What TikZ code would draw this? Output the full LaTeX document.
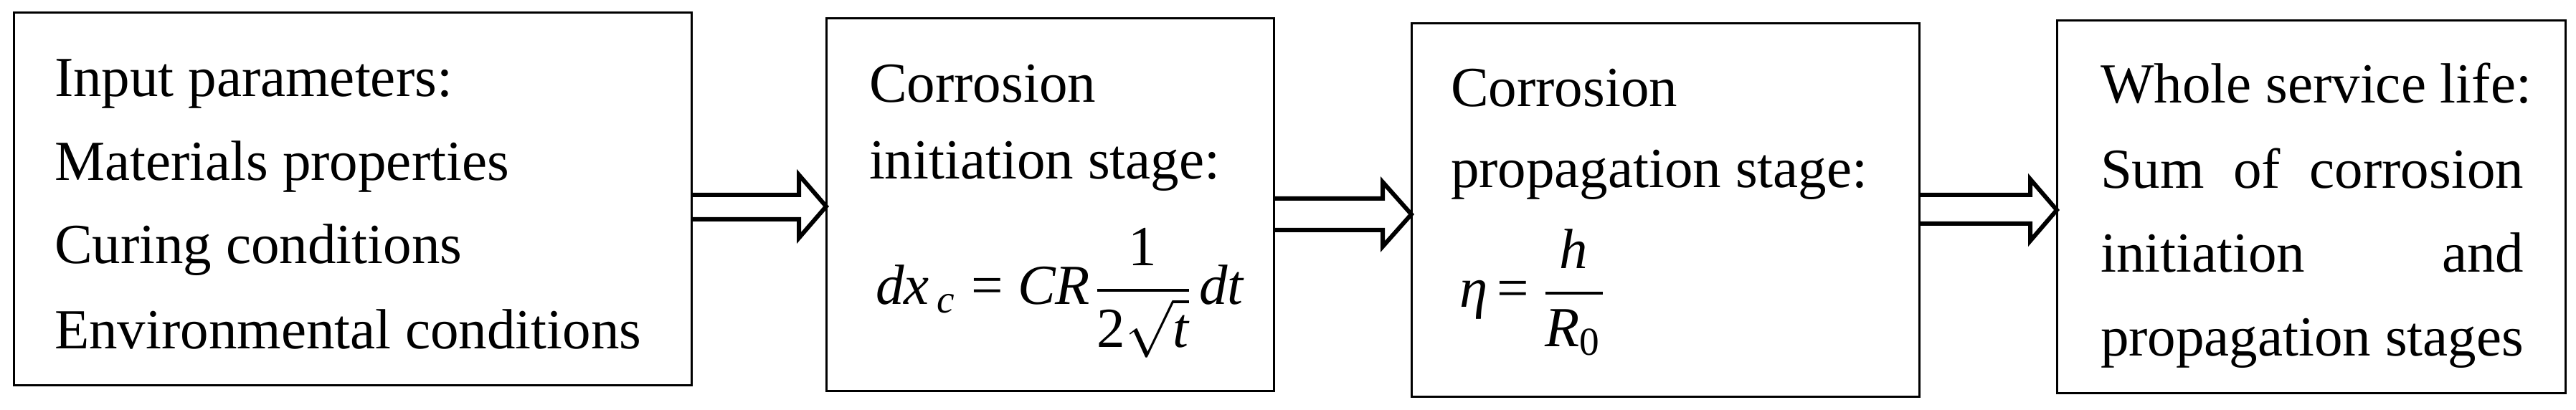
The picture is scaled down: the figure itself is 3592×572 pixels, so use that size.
\documentclass[tikz,border=0pt]{standalone}
\usepackage{amsmath}
\usepackage{fontspec}
\setmainfont{Liberation Serif}
\usetikzlibrary{calc}
\newcommand\bigtxt{\fontsize{9.875pt}{12pt}\selectfont}
\tikzset{
  box/.style={draw, line width=0.375pt, anchor=north west, inner sep=0pt, outer sep=0pt},
  txt/.style={anchor=base west, inner sep=0pt, outer sep=0pt, font=\bigtxt},
  blk/.style={draw, line width=0.75pt, line join=miter, miter limit=10}
}
\begin{document}
\begin{tikzpicture}[x=0.125pt,y=-0.125pt]
\useasboundingbox (0,0) rectangle (3592,572);
\fill[white] (0,0) rectangle (3592,572);

% boxes
\node[box, minimum width=118.125pt, minimum height=65pt] (b1) at (19,18) {};
\node[box, minimum width=78pt, minimum height=65pt] (b2) at (1152,26) {};
\node[box, minimum width=88.5pt, minimum height=65.125pt] (b3) at (1968,33) {};
\node[box, minimum width=88.625pt, minimum height=65pt] (b4) at (2868,29) {};

% block arrows, from box to box
\draw[blk] (b1.east |- 0,306) -- (1114,306) -- (1114,332) -- (b2.west |- 0,288) -- (1114,244) -- (1114,272) -- (b1.east |- 0,272);
\draw[blk] (b2.east |- 0,321) -- (1928,321) -- (1928,344) -- (b3.west |- 0,299) -- (1928,254) -- (1928,277) -- (b2.east |- 0,277);
\draw[blk] (b3.east |- 0,312) -- (2831,312) -- (2831,336) -- (b4.west |- 0,293) -- (2831,250) -- (2831,272) -- (b3.east |- 0,272);

% box 1 text
\node[txt] (t11) at (76,135) {Input parameters:};
\node[txt] (t12) at (76,252) {Materials properties};
\node[txt] (t13) at (76,368) {Curing conditions};
\node[txt] (t14) at (76,487) {Environmental conditions};

% box 2 text
\node[txt] (t21) at (1212,143) {Corrosion};
\node[txt] (t22) at (1212,250) {initiation stage:};
\node[txt] (t23) at (1221,425) {\textit{dx}$_{\,\textit{c}}$ = \textit{CR}$\displaystyle\frac{\textrm{1}}{\textrm{2}\sqrt{\textit{t}}}$\kern0.06em\textit{dt}};

% box 3 text
\node[txt] (t31) at (2023,149) {Corrosion};
\node[txt] (t32) at (2023,262) {propagation stage:};
\node[txt] (t33) at (2035,429) {\textit{η}\,=\,$\displaystyle\frac{\textit{h}}{\textit{R}_{\textrm{0}}}$};

% box 4 text
\node[txt] (t41) at (2929,144) {Whole service life:};
\node[txt] (t42) at (2929,263) {\makebox[73.75pt][s]{Sum of corrosion}};
\node[txt] (t43) at (2929,380) {\makebox[73.75pt][s]{initiation and}};
\node[txt] (t44) at (2929,497) {propagation stages};
\end{tikzpicture}
\end{document}
